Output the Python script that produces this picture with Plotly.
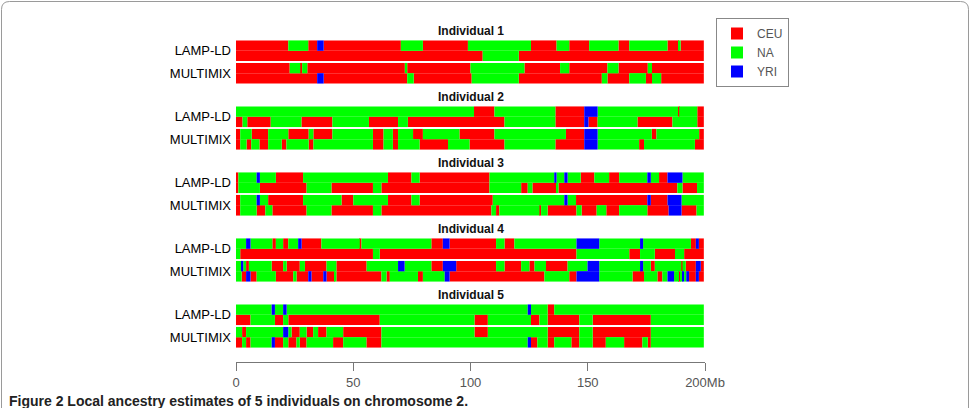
import plotly.graph_objects as go

# ---------------- data ----------------
CHROM_END = 199.5
ANCESTRIES = ["CEU", "NA", "YRI"]
COLORS = {"CEU": "#FF0000", "NA": "#00FF00", "YRI": "#0000FF"}
CODES = {"C": "CEU", "N": "NA", "Y": "YRI"}
INDIVIDUALS = ["Individual 1", "Individual 2", "Individual 3", "Individual 4", "Individual 5"]
METHODS = ["LAMP-LD", "MULTIMIX"]
X_TICKS = [0, 50, 100, 150, 200]
X_TICK_TEXT = ["0", "50", "100", "150", "200Mb"]
CAPTION = "Figure 2 Local ancestry estimates of 5 individuals on chromosome 2."

# segments: (ancestry code, segment end in Mb); each haplotype starts at 0
IND1_LAMP_H1 = [("C", 22.3), ("N", 30.8), ("C", 34.6), ("Y", 37.4), ("C", 70.3), ("N", 79.7), ("C", 98.9),
                ("N", 125.8), ("C", 136.7), ("N", 142.1), ("C", 150.6), ("N", 163.1), ("C", 167.7),
                ("N", 184.0), ("C", 188.9), ("N", 189.6), ("C", CHROM_END)]
IND1_LAMP_H2 = [("C", 105.2), ("N", 120.6), ("C", CHROM_END)]
IND1_MULTI_H1 = [("C", 22.9), ("N", 27.4), ("C", 28.2), ("N", 30.4), ("C", 72.0), ("N", 73.0), ("C", 100.0),
                 ("N", 123.0), ("C", 138.2), ("N", 142.1), ("C", 158.4), ("N", 163.1), ("C", 175.6),
                 ("N", 177.4), ("C", CHROM_END)]
IND1_MULTI_H2 = [("C", 34.6), ("Y", 37.4), ("C", 73.0), ("N", 75.8), ("C", 100.5), ("N", 120.6), ("C", 156.0),
                 ("N", 158.4), ("C", 167.7), ("N", 174.8), ("C", 177.4), ("N", 181.3), ("C", CHROM_END)]

IND2_LAMP_H1 = [("N", 101.5), ("C", 110.2), ("N", 136.2), ("C", 148.5), ("Y", 154.2), ("N", 188.5),
                ("C", 189.0), ("N", 196.7), ("C", CHROM_END)]
IND2_LAMP_H2 = [("C", 2.8), ("N", 4.8), ("C", 14.8), ("N", 27.9), ("C", 41.1), ("N", 56.7), ("C", 69.1),
                ("N", 73.3), ("C", 114.5), ("N", 136.2), ("C", 148.5), ("Y", 150.3), ("C", 154.2),
                ("N", 171.2), ("C", 186.1), ("N", 196.7), ("C", CHROM_END)]
IND2_MULTI_H1 = [("C", 1.8), ("N", 6.7), ("C", 13.7), ("N", 22.3), ("C", 31.0), ("N", 33.0), ("C", 41.1),
                 ("N", 58.4), ("C", 62.9), ("N", 66.9), ("C", 69.1), ("N", 75.5), ("C", 79.7), ("N", 95.3),
                 ("C", 110.2), ("N", 140.7), ("C", 148.5), ("Y", 154.2), ("N", 177.3), ("C", 179.3),
                 ("N", 197.5), ("C", CHROM_END)]
IND2_MULTI_H2 = [("C", 1.8), ("N", 4.5), ("C", 6.5), ("N", 10.0), ("C", 13.7), ("N", 19.5), ("C", 21.5),
                 ("N", 31.0), ("C", 33.0), ("N", 58.4), ("C", 62.9), ("N", 66.9), ("C", 69.1), ("N", 78.3),
                 ("C", 90.4), ("N", 99.6), ("C", 114.5), ("N", 136.2), ("C", 148.5), ("Y", 154.2),
                 ("N", 171.9), ("C", 174.0), ("N", 195.7), ("C", CHROM_END)]

IND3_LAMP_H1 = [("C", 1.0), ("N", 8.8), ("Y", 10.2), ("N", 17.0), ("C", 28.6), ("N", 64.8), ("C", 74.8),
                ("N", 78.3), ("C", 108.1), ("N", 135.7), ("Y", 136.7), ("N", 140.0), ("Y", 141.4),
                ("N", 147.0), ("C", 152.8), ("N", 159.1), ("C", 163.4), ("N", 175.4), ("Y", 176.9),
                ("N", 180.4), ("C", 184.0), ("Y", 190.4), ("N", CHROM_END)]
IND3_LAMP_H2 = [("C", 1.0), ("N", 10.2), ("C", 30.1), ("N", 40.7), ("C", 58.4), ("N", 62.0), ("C", 108.1),
                ("N", 121.6), ("C", 124.4), ("N", 126.4), ("C", 136.7), ("N", 137.5), ("C", 188.2),
                ("N", 190.4), ("C", 196.6), ("N", CHROM_END)]
IND3_MULTI_H1 = [("C", 1.8), ("N", 8.8), ("Y", 10.2), ("N", 13.7), ("C", 28.6), ("N", 45.0), ("C", 50.0),
                 ("N", 64.8), ("C", 74.8), ("N", 78.3), ("C", 109.5), ("N", 140.0), ("Y", 141.4),
                 ("N", 145.0), ("C", 175.4), ("Y", 176.9), ("C", 184.0), ("Y", 190.0), ("N", CHROM_END)]
IND3_MULTI_H2 = [("C", 1.8), ("N", 8.8), ("C", 12.5), ("N", 15.5), ("C", 30.1), ("N", 40.7), ("C", 58.4),
                 ("N", 62.0), ("C", 108.9), ("N", 110.9), ("C", 112.3), ("N", 129.4), ("C", 130.1),
                 ("N", 132.9), ("C", 145.2), ("N", 147.4), ("C", 153.8), ("N", 157.9), ("C", 163.4),
                 ("N", 175.4), ("C", 184.5), ("Y", 190.0), ("C", 196.4), ("N", CHROM_END)]

IND4_LAMP_H1 = [("N", 4.3), ("Y", 6.2), ("N", 15.5), ("C", 17.0), ("N", 20.1), ("C", 22.3), ("N", 26.5),
                ("Y", 28.0), ("C", 36.4), ("N", 52.8), ("C", 53.5), ("N", 83.3), ("C", 88.2), ("Y", 91.1),
                ("C", 110.9), ("N", 114.5), ("C", 118.7), ("N", 145.2), ("Y", 154.9), ("N", 172.3),
                ("Y", 173.6), ("N", 194.0), ("C", 196.1), ("Y", 197.4), ("C", CHROM_END)]
IND4_LAMP_H2 = [("N", 1.8), ("C", 58.4), ("N", 61.3), ("C", 145.2), ("N", 167.7), ("C", 172.3),
                ("N", 178.6), ("C", 187.2), ("N", 191.1), ("C", CHROM_END)]
IND4_MULTI_H1 = [("N", 2.4), ("Y", 3.1), ("N", 4.3), ("C", 5.5), ("N", 15.2), ("C", 20.1), ("N", 21.6),
                 ("C", 27.2), ("N", 29.4), ("C", 38.6), ("N", 42.8), ("C", 55.7), ("N", 69.1), ("Y", 71.9),
                 ("N", 83.3), ("C", 88.2), ("Y", 93.9), ("C", 110.9), ("N", 114.5), ("C", 121.6),
                 ("N", 125.1), ("C", 127.3), ("N", 132.2), ("C", 141.4), ("N", 149.9), ("Y", 154.9),
                 ("N", 172.3), ("Y", 173.6), ("N", 176.9), ("C", 178.6), ("N", 189.9), ("C", 190.4),
                 ("N", 191.8), ("C", 196.1), ("Y", 198.2), ("C", CHROM_END)]
IND4_MULTI_H2 = [("N", 2.4), ("C", 4.3), ("Y", 6.2), ("C", 8.8), ("N", 17.0), ("C", 24.4), ("N", 25.8),
                 ("C", 30.8), ("Y", 32.2), ("C", 37.2), ("Y", 38.6), ("C", 42.1), ("N", 42.8), ("C", 62.0),
                 ("N", 64.2), ("C", 65.6), ("N", 77.6), ("C", 79.7), ("N", 89.0), ("Y", 91.1),
                 ("C", 131.5), ("N", 142.1), ("C", 145.2), ("Y", 154.9), ("N", 169.1), ("C", 174.0),
                 ("N", 179.7), ("C", 181.8), ("N", 184.0), ("Y", 186.8), ("N", 188.9), ("C", 189.6),
                 ("N", 190.4), ("Y", 191.1), ("N", 192.0), ("Y", 193.2), ("C", 196.1), ("Y", 197.4),
                 ("C", CHROM_END)]

IND5_LAMP_H1 = [("N", 15.2), ("Y", 16.6), ("N", 20.1), ("Y", 21.6), ("N", 124.4), ("Y", 125.8),
                ("N", 132.9), ("C", 135.7), ("N", CHROM_END)]
IND5_LAMP_H2 = [("C", 6.2), ("N", 16.6), ("C", 20.1), ("N", 22.3), ("C", 61.3), ("N", 101.7), ("C", 107.4),
                ("N", 125.8), ("C", 129.4), ("N", 132.9), ("C", 146.4), ("N", 152.1), ("C", 176.9),
                ("N", CHROM_END)]
IND5_MULTI_H1 = [("N", 2.6), ("C", 4.3), ("N", 20.1), ("Y", 22.3), ("N", 23.7), ("C", 27.2), ("N", 30.1),
                 ("C", 32.9), ("N", 35.0), ("C", 38.6), ("N", 45.7), ("C", 62.0), ("N", 101.7),
                 ("C", 107.4), ("N", 132.9), ("C", 146.4), ("N", 152.1), ("C", 176.9), ("N", CHROM_END)]
IND5_MULTI_H2 = [("C", 2.6), ("N", 4.3), ("C", 6.2), ("N", 15.2), ("Y", 16.6), ("C", 20.1), ("N", 22.3),
                 ("C", 25.8), ("N", 27.2), ("C", 30.1), ("N", 41.4), ("C", 45.7), ("N", 55.6), ("C", 62.0),
                 ("N", 124.4), ("Y", 125.8), ("C", 128.5), ("N", 132.9), ("C", 135.7), ("N", 143.0),
                 ("C", 146.4), ("N", 152.1), ("C", 157.7), ("N", 165.5), ("C", 173.3), ("N", 175.6),
                 ("C", 176.9), ("N", CHROM_END)]

PANELS = [
    [(IND1_LAMP_H1, IND1_LAMP_H2), (IND1_MULTI_H1, IND1_MULTI_H2)],
    [(IND2_LAMP_H1, IND2_LAMP_H2), (IND2_MULTI_H1, IND2_MULTI_H2)],
    [(IND3_LAMP_H1, IND3_LAMP_H2), (IND3_MULTI_H1, IND3_MULTI_H2)],
    [(IND4_LAMP_H1, IND4_LAMP_H2), (IND4_MULTI_H1, IND4_MULTI_H2)],
    [(IND5_LAMP_H1, IND5_LAMP_H2), (IND5_MULTI_H1, IND5_MULTI_H2)],
]

# ---------------- layout geometry (y axis in pixel-like units) ----------------
W, H = 971, 408
ML, MR, MT, MB = 236, 266, 0, 46
PLOT_W = W - ML - MR
PLOT_H = H - MT - MB
FIRST_TOP = 40.5
PANEL_STEP = 66.0
ROW_H = 20.5
ROW_GAP = 2.0

traces = {a: dict(y=[], base=[], x=[], width=[]) for a in ANCESTRIES}
ytickvals, yticktext = [], []
annotations = []

for i, panel in enumerate(PANELS):
    top = FIRST_TOP + PANEL_STEP * i
    annotations.append(dict(x=100, y=top - 9.5, xref="x", yref="y", text="<b>%s</b>" % INDIVIDUALS[i],
                            showarrow=False, font=dict(size=12, color="#111"), xanchor="center",
                            yanchor="middle"))
    for m, haps in enumerate(panel):
        row_top = top + m * (ROW_H + ROW_GAP)
        ytickvals.append(row_top + ROW_H / 2)
        yticktext.append(METHODS[m])
        for h, segs in enumerate(haps):
            yc = row_top + ROW_H / 4 + h * ROW_H / 2
            start = 0.0
            for code, end in segs:
                a = CODES[code]
                traces[a]["y"].append(yc)
                traces[a]["base"].append(start)
                traces[a]["x"].append(end - start)
                traces[a]["width"].append(ROW_H / 2 + 0.15)
                start = end

fig = go.Figure()
for a in ANCESTRIES:
    t = traces[a]
    fig.add_trace(go.Bar(orientation="h", y=t["y"], x=t["x"], base=t["base"], width=t["width"],
                         marker=dict(color=COLORS[a], line=dict(width=0)), name=a,
                         hoverinfo="skip"))

# frame (rounded box around the figure, in pixels -> paper coords)
def px(xp):
    return (xp - ML) / PLOT_W

def py(yp):
    return (PLOT_H + MT - yp) / PLOT_H

r = 8
x0, x1, y0, yb = 1.5, 968.5, 1.5, 420
path = ("M %f,%f L %f,%f Q %f,%f %f,%f L %f,%f Q %f,%f %f,%f L %f,%f" % (
    px(x0), py(yb), px(x0), py(y0 + r), px(x0), py(y0), px(x0 + r), py(y0),
    px(x1 - r), py(y0), px(x1), py(y0), px(x1), py(y0 + r), px(x1), py(yb)))

annotations.append(dict(x=px(7), y=py(401), xref="paper", yref="paper", text="<b>%s</b>" % CAPTION,
                        showarrow=False, xanchor="left", yanchor="middle",
                        font=dict(size=14, color="#222")))

fig.update_layout(
    width=W, height=H,
    margin=dict(l=ML, r=MR, t=MT, b=MB),
    paper_bgcolor="white", plot_bgcolor="white",
    barmode="overlay",
    font=dict(family="Liberation Sans, Arial, sans-serif", color="#222"),
    xaxis=dict(range=[0, 200], tickvals=X_TICKS, ticktext=X_TICK_TEXT, showgrid=False, zeroline=False,
               showline=True, linecolor="#777", linewidth=1, ticks="outside", ticklen=8,
               tickcolor="#777", tickfont=dict(size=13, color="#555"), fixedrange=True),
    yaxis=dict(range=[PLOT_H, 0], tickvals=ytickvals, ticktext=yticktext, showgrid=False,
               zeroline=False, showline=False, ticks="", tickfont=dict(size=13, color="#000"),
               ticklabelstandoff=4, fixedrange=True),
    legend=dict(x=px(716), y=py(18), xanchor="left", yanchor="top", bordercolor="#888",
                borderwidth=1, bgcolor="white", font=dict(size=12, color="#555"),
                itemclick=False, itemdoubleclick=False, tracegroupgap=0),
    annotations=annotations,
    shapes=[dict(type="path", path=path, xref="paper", yref="paper",
                 line=dict(color="#9a9a9a", width=1))],
)

fig.write_html("out.html")
